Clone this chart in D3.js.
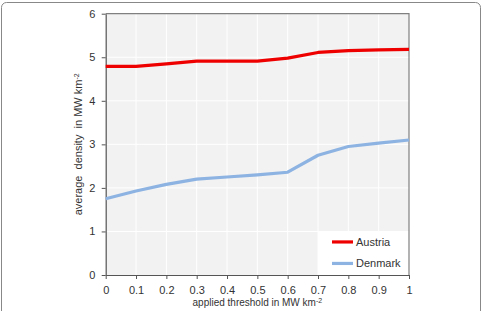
<!DOCTYPE html>
<html>
<head>
<meta charset="utf-8">
<script src="https://cdn.jsdelivr.net/npm/d3@7"></script>
<style>
  body { margin: 0; background: #fff; }
  text { font-family: "Liberation Sans", Arial, sans-serif; fill: #333; }
</style>
</head>
<body>
<div id="chart"></div>
<script>
// values
const thresholds = [0, 0.1, 0.2, 0.3, 0.4, 0.5, 0.6, 0.7, 0.8, 0.9, 1];
const austria = [4.79, 4.79, 4.85, 4.91, 4.91, 4.91, 4.98, 5.11, 5.15, 5.17, 5.18];
const denmark = [1.75, 1.93, 2.08, 2.2, 2.25, 2.3, 2.36, 2.75, 2.95, 3.03, 3.1];
const yTicks = [0, 1, 2, 3, 4, 5, 6];
const seriesNames = ["Austria", "Denmark"];
const seriesColors = {"Austria": "#ee0000", "Denmark": "#8db3e2"};

const W = 483, H = 311;
const margin = {top: 13.7, right: 74, bottom: 36, left: 105.7},
      width = 409 - margin.left,
      height = 275 - margin.top;

const root = d3.select("#chart").append("svg")
    .attr("width", W)
    .attr("height", H);

// outer frame
root.append("rect")
    .attr("x", 1.5).attr("y", 2.5)
    .attr("width", 479).attr("height", 320)
    .attr("rx", 5)
    .style("fill", "none")
    .style("stroke", "#888")
    .style("stroke-width", 1);

const svg = root.append("g")
    .attr("transform", `translate(${margin.left},${margin.top})`);

const x = d3.scaleLinear().domain([0, 1]).range([0, width]);
const y = d3.scaleLinear().domain([0, 6]).range([height, 0]);

// plot background
svg.append("rect")
    .attr("width", width).attr("height", height)
    .style("fill", "#f2f2f2");

// grid
svg.selectAll(".vgrid").data(thresholds.slice(1, -1)).enter()
    .append("line")
    .attr("x1", d => x(d)).attr("x2", d => x(d))
    .attr("y1", 0).attr("y2", height)
    .style("stroke", "#fff").style("stroke-width", 1);
svg.selectAll(".hgrid").data(yTicks.slice(1, -1)).enter()
    .append("line")
    .attr("x1", 0).attr("x2", width)
    .attr("y1", d => y(d)).attr("y2", d => y(d))
    .style("stroke", "#fff").style("stroke-width", 1);

// legend box
const legX = x(0.7), legY = y(1);
svg.append("rect")
    .attr("x", legX).attr("y", legY)
    .attr("width", width - legX).attr("height", height - legY)
    .style("fill", "#fff");

// top and right border
svg.append("path")
    .attr("d", `M0,0H${width}V${height}`)
    .style("fill", "none")
    .style("stroke", "#808080")
    .style("stroke-width", 1.2);

// axes
const xAxis = svg.append("g")
    .attr("transform", `translate(0,${height})`)
    .call(d3.axisBottom(x).tickValues(thresholds).tickFormat(d3.format("")).tickSize(4).tickSizeOuter(0));
const yAxis = svg.append("g")
    .call(d3.axisLeft(y).tickValues(yTicks).tickFormat(d3.format("d")).tickSize(4).tickSizeOuter(0));

[xAxis, yAxis].forEach(g => {
    g.select(".domain").style("stroke", "#555").style("stroke-width", 1.2);
    g.selectAll(".tick line").style("stroke", "#555");
    g.selectAll(".tick text")
        .style("font-family", '"Liberation Sans", Arial, sans-serif')
        .style("font-size", "11px")
        .style("fill", "#333");
});
xAxis.selectAll(".tick text").attr("dy", "1.05em");
yAxis.selectAll(".tick text").attr("dx", "-0.3em");

// lines
const line = d3.line()
    .x((d, i) => x(thresholds[i]))
    .y(d => y(d));

[["Austria", austria], ["Denmark", denmark]].forEach(([name, vals]) => {
    svg.append("path")
        .datum(vals)
        .attr("d", line)
        .style("fill", "none")
        .style("stroke", seriesColors[name])
        .style("stroke-width", 3.2)
        .style("stroke-linejoin", "round");
});

// legend entries
seriesNames.forEach((name, i) => {
    const ly = y(1) + 10.5 + i * 21.5;
    svg.append("line")
        .attr("x1", legX + 14).attr("x2", legX + 35)
        .attr("y1", ly).attr("y2", ly)
        .style("stroke", seriesColors[name])
        .style("stroke-width", 3.2);
    svg.append("text")
        .attr("x", legX + 38).attr("y", ly + 4)
        .style("font-size", "11px")
        .text(name);
});

// axis labels
const xl = svg.append("text")
    .attr("x", width / 2).attr("y", height + 31.5)
    .attr("text-anchor", "middle")
    .style("font-size", "10px");
xl.append("tspan").text("applied threshold in MW km");
xl.append("tspan").attr("dy", "-0.45em").style("font-size", "7px").text("-2");

const yl = svg.append("text")
    .attr("transform", `translate(${-margin.left + 82},${height / 2}) rotate(-90)`)
    .attr("text-anchor", "middle")
    .style("white-space", "pre")
    .style("font-size", "11px");
yl.append("tspan").text("average  density  in MW km");
yl.append("tspan").attr("dy", "-0.45em").style("font-size", "7px").text("-2");
</script>
</body>
</html>
